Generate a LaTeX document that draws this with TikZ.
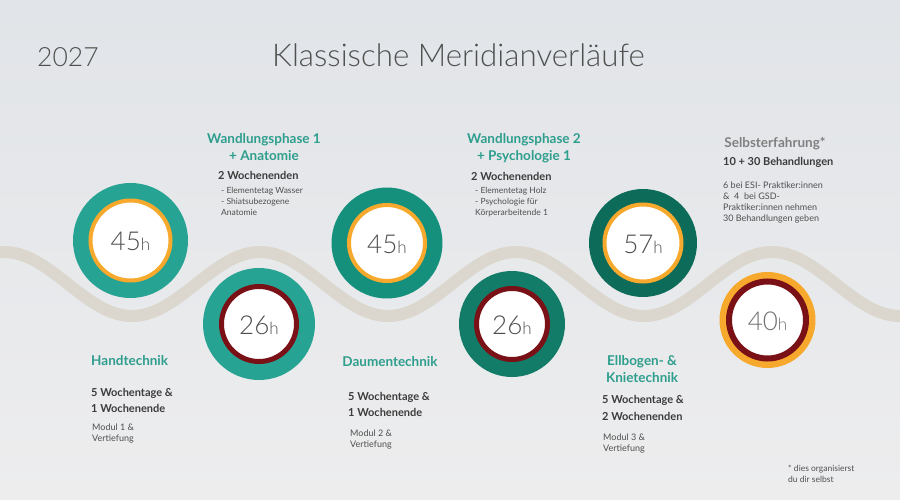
\documentclass[tikz,border=0pt]{standalone}
\usepackage{fontspec}
\setmainfont{Lato}
\newfontfamily\lightfont{Lato Light}

\definecolor{bgtop}{HTML}{E1E4E8}
\definecolor{bgbottom}{HTML}{EDEDEE}
\definecolor{wavecol}{HTML}{DCD7CE}
\definecolor{tealA}{HTML}{26A392}
\definecolor{tealB}{HTML}{14907D}
\definecolor{tealC}{HTML}{137C68}
\definecolor{tealD}{HTML}{0D6B59}
\definecolor{ringorange}{HTML}{F6A92C}
\definecolor{ringred}{HTML}{7A1116}
\definecolor{tealtxt}{HTML}{2E9E8D}
\definecolor{darktxt}{HTML}{3C3C3C}
\definecolor{smalltxt}{HTML}{4F4F4F}
\definecolor{hourtxt}{HTML}{4E4E4E}

\tikzset{
  heading/.style={inner sep=0pt, text=tealtxt, align=center,
    font=\bfseries\fontsize{13.5}{16.5}\selectfont},
  subline/.style={inner sep=0pt, text=darktxt, align=left,
    font=\bfseries\fontsize{11}{16.3}\selectfont},
  smallline/.style={inner sep=0pt, text=smalltxt, align=left,
    font=\fontsize{8.5}{11}\selectfont},
  hournode/.style={inner sep=0pt, text=hourtxt}
}
\newcommand{\hours}[1]{{\lightfont\fontsize{26}{26}\selectfont #1}{\lightfont\fontsize{17}{17}\selectfont h}}

\begin{document}
\begin{tikzpicture}[x=1pt, y=-1pt]
  \useasboundingbox (0,0) rectangle (900,500);
  \shade[top color=bgtop, bottom color=bgbottom] (0,0) rectangle (900,500);

  % title
  \node (year) at (37,67) [anchor=base west, inner sep=0pt, text=darktxt!90]
    {\lightfont\fontsize{26.5}{26.5}\selectfont 2027};
  \node (title) at (272,67) [anchor=base west, inner sep=0pt, text=darktxt!90]
    {\lightfont\fontsize{31.3}{31.3}\selectfont Klassische Meridianverläufe};

  % wave
  \draw[wavecol, line width=12pt] plot[domain=-10:910, samples=185, smooth]
    (\x, {284-32*cos(1.40625*(\x-4))});

  % rings
  \fill[tealA] (130.5,240.5) circle (57.5);
  \draw[ringorange, line width=4pt, fill=white] (130.5,240.5) circle (40);
  \node (hand) at (130.5,241.5) [hournode] {\hours{45}};

  \fill[tealA] (259,324) circle (56);
  \draw[ringred, line width=5pt, fill=white] (259,324) circle (37.5);
  \node (wand1) at (259,325) [hournode] {\hours{26}};

  \fill[tealB] (387,243) circle (55.5);
  \draw[ringorange, line width=4pt, fill=white] (387,243) circle (38);
  \node (daumen) at (387,244) [hournode] {\hours{45}};

  \fill[tealC] (512,324) circle (53);
  \draw[ringred, line width=5pt, fill=white] (512,324) circle (35.5);
  \node (wand2) at (512,325) [hournode] {\hours{26}};

  \fill[tealD] (643,243) circle (54);
  \draw[ringorange, line width=4pt, fill=white] (643,243) circle (38.5);
  \node (ellbogen) at (643,244) [hournode] {\hours{57}};

  \fill[ringorange] (767.5,320) circle (48);
  \draw[ringred, line width=6pt, fill=white] (767.5,320) circle (38.5);
  \node (selbst) at (767.5,321) [hournode, text=hourtxt!80] {\hours{40}};

  % upper texts
  \node (w1head) at (264,133.6) [heading, anchor=north] {Wandlungsphase 1\\+ Anatomie};
  \node (w1sub) at (218,179.3) [subline, anchor=base west] {2 Wochenenden};
  \node (w1list) at (221,187.2) [smallline, anchor=north west]
    {- Elementetag Wasser\\- Shiatsubezogene\\Anatomie};

  \node (w2head) at (524,133.6) [heading, anchor=north] {Wandlungsphase 2\\+ Psychologie 1};
  \node (w2sub) at (471,180) [subline, anchor=base west] {2 Wochenenden};
  \node (w2list) at (475,187.2) [smallline, anchor=north west]
    {- Elementetag Holz\\- Psychologie für\\Körperarbeitende 1};

  \node (sehead) at (775,147.7) [heading, anchor=base, text=black!50] {Selbsterfahrung*};
  \node (sesub) at (723,165.7) [subline, anchor=base west] {10 + 30 Behandlungen};
  \node (selist) at (723,181.8) [smallline, anchor=north west, font=\fontsize{9}{11}\selectfont]
    {6 bei ESI- Praktiker:innen\\\&\ \ 4\ \ bei GSD-\\Praktiker:innen nehmen\\30 Behandlungen geben};

  % lower texts
  \node (hhead) at (91,365) [heading, anchor=base west] {Handtechnik};
  \node (hsub) at (91,387.8) [subline, anchor=north west] {5 Wochentage \&\\1 Wochenende};
  \node (hlist) at (92,423.6) [smallline, anchor=north west, font=\fontsize{9}{10.7}\selectfont]
    {Modul 1 \&\\Vertiefung};

  \node (dhead) at (390,366.7) [heading, anchor=base] {Daumentechnik};
  \node (dsub) at (348,392.1) [subline, anchor=north west] {5 Wochentage \&\\1 Wochenende};
  \node (dlist) at (350,429.6) [smallline, anchor=north west, font=\fontsize{9}{10.7}\selectfont]
    {Modul 2 \&\\Vertiefung};

  \node (ehead) at (642,355.3) [heading, anchor=north] {Ellbogen- \&\\Knietechnik};
  \node (esub) at (602,395.4) [subline, anchor=north west] {5 Wochentage \&\\2 Wochenenden};
  \node (elist) at (603,433.6) [smallline, anchor=north west, font=\fontsize{9}{10.7}\selectfont]
    {Modul 3 \&\\Vertiefung};

  \node (note) at (788,464.6) [smallline, anchor=north west] {* dies organisierst\\du dir selbst};
\end{tikzpicture}
\end{document}
